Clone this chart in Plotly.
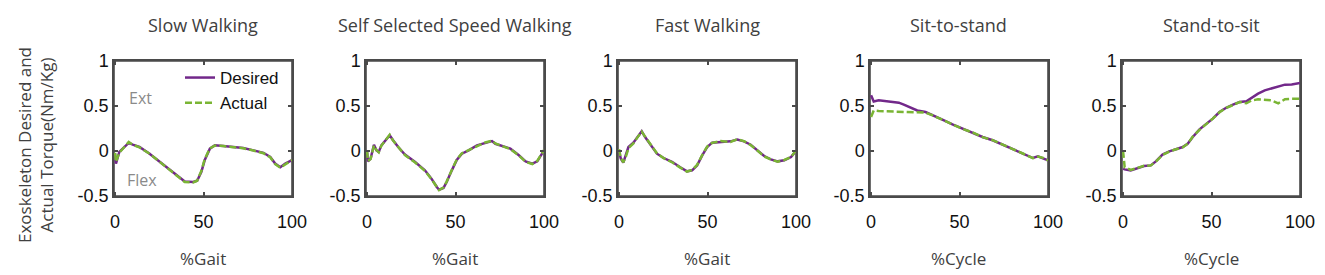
import plotly.graph_objects as go

# ---------------- data ----------------
titles = ["Slow Walking", "Self Selected Speed Walking", "Fast Walking", "Sit-to-stand", "Stand-to-sit"]
xlabels = ["%Gait", "%Gait", "%Gait", "%Cycle", "%Cycle"]
x_ticks = [0, 50, 100]
y_ticks = [-0.5, 0, 0.5, 1]

x1 = [0, 0.5, 2.4, 5.3, 7.7, 10, 13.8, 19.5, 25.2, 30.8, 36.5, 39.4, 44.1, 46.4, 48.8, 50.7, 53.6,
      56.4, 61.2, 66.8, 72.5, 78.2, 83.9, 87.7, 90.5, 93.4, 96.2, 100]
desired1 = [-0.03, -0.14, -0.01, 0.04, 0.09, 0.07, 0.045, -0.03, -0.12, -0.21, -0.30, -0.34, -0.345,
            -0.33, -0.23, -0.10, 0.026, 0.063, 0.056, 0.044, 0.033, 0.007, -0.02, -0.067, -0.14, -0.18,
            -0.14, -0.10]
actual1 = [-0.02, -0.12, -0.02, 0.05, 0.10, 0.07, 0.04, -0.03, -0.12, -0.21, -0.30, -0.345, -0.35,
           -0.33, -0.22, -0.09, 0.03, 0.06, 0.055, 0.045, 0.03, 0.005, -0.025, -0.07, -0.145, -0.185,
           -0.145, -0.10]

x2 = [0, 0.5, 2, 3.9, 5.3, 6.6, 8.1, 10.4, 12.8, 14.7, 17.6, 21.4, 27, 32.7, 36.5, 39.4, 40.7, 43.2,
      45, 47.9, 50.7, 53.6, 57.4, 62.1, 66.8, 70.6, 72.5, 76.3, 81, 85.8, 89.6, 93.4, 96.2, 100]
desired2 = [-0.01, -0.115, -0.085, 0.07, 0.007, -0.01, 0.063, 0.12, 0.175, 0.12, 0.044, -0.04, -0.12,
            -0.215, -0.31, -0.40, -0.43, -0.41, -0.345, -0.215, -0.10, -0.03, 0.007, 0.063, 0.093, 0.11,
            0.08, 0.056, 0.026, -0.048, -0.115, -0.14, -0.115, 0.007]
actual2 = [0.0, -0.11, -0.09, 0.06, 0.01, -0.015, 0.06, 0.125, 0.18, 0.115, 0.04, -0.045, -0.125,
           -0.22, -0.315, -0.405, -0.435, -0.405, -0.34, -0.21, -0.095, -0.025, 0.01, 0.06, 0.095, 0.115,
           0.085, 0.055, 0.02, -0.05, -0.12, -0.145, -0.11, 0.01]

x3 = [0, 1, 2.4, 3.9, 5.3, 8.1, 10.9, 12.8, 14.7, 17.6, 21.4, 25.2, 29.9, 34.6, 38.4, 41.3, 44.1, 47,
      49.8, 52.6, 57.4, 63, 66.8, 70.6, 74.4, 78.2, 82, 85.8, 89.6, 93.4, 97.2, 100]
desired3 = [-0.01, -0.085, -0.13, -0.05, 0.044, 0.093, 0.174, 0.22, 0.155, 0.07, -0.03, -0.078, -0.12,
            -0.18, -0.226, -0.215, -0.16, -0.048, 0.044, 0.093, 0.10, 0.107, 0.126, 0.107, 0.07, 0.007,
            -0.056, -0.093, -0.115, -0.104, -0.067, 0.0]
actual3 = [0.02, -0.08, -0.125, -0.06, 0.03, 0.085, 0.165, 0.215, 0.16, 0.075, -0.025, -0.08, -0.125,
           -0.185, -0.23, -0.21, -0.155, -0.045, 0.05, 0.09, 0.11, 0.10, 0.13, 0.11, 0.065, 0.005,
           -0.06, -0.095, -0.118, -0.1, -0.065, 0.005]

x4 = [0, 0.8, 1.5, 4.3, 8.1, 11.9, 15.7, 18.5, 22.3, 26.1, 30.8, 34.6, 40.3, 46, 51.7, 57.4, 63, 68.7,
      74.4, 80.1, 85.8, 91.5, 94.3, 97.2, 100]
desired4 = [0.62, 0.59, 0.55, 0.563, 0.556, 0.544, 0.537, 0.515, 0.478, 0.45, 0.433, 0.396, 0.348,
            0.296, 0.248, 0.204, 0.156, 0.119, 0.07, 0.019, -0.03, -0.078, -0.06, -0.078, -0.104]
actual4 = [0.378, 0.426, 0.45, 0.444, 0.442, 0.44, 0.437, 0.435, 0.433, 0.428, 0.426, 0.398, 0.346,
           0.298, 0.246, 0.206, 0.154, 0.121, 0.068, 0.021, -0.028, -0.08, -0.062, -0.076, -0.104]

x5 = [0, 0.9, 4.3, 8.1, 11.9, 15.7, 18.5, 22.3, 26.1, 29.9, 33.7, 36.5, 39.4, 43.2, 47, 50.7, 54.5,
      58.3, 62.1, 65.9, 69.7, 72.5, 76.3, 80.1, 83.9, 87.7, 91.5, 95.3, 100]
desired5 = [-0.196, -0.204, -0.215, -0.19, -0.167, -0.16, -0.115, -0.04, -0.004, 0.019, 0.044, 0.081,
            0.156, 0.24, 0.30, 0.36, 0.433, 0.48, 0.515, 0.544, 0.552, 0.59, 0.637, 0.674, 0.693, 0.711,
            0.737, 0.74, 0.756]
actual5 = [0.0, -0.18, -0.21, -0.19, -0.165, -0.16, -0.118, -0.045, -0.006, 0.02, 0.04, 0.08, 0.16,
           0.235, 0.295, 0.36, 0.43, 0.48, 0.51, 0.545, 0.53, 0.56, 0.574, 0.57, 0.563, 0.53, 0.575,
           0.58, 0.58]

xs = [x1, x2, x3, x4, x5]
desired = [desired1, desired2, desired3, desired4, desired5]
actual = [actual1, actual2, actual3, actual4, actual5]

# axis limits (MATLAB-style boxed axes)
X_RANGE = [-0.6, 100]
Y_RANGE = [-0.5, 1]

# ---------------- layout ----------------
# the page has an 8px body margin, so the figure is drawn 8px right/down of the window corner
OFF = 8
W, H = 1325 - OFF, 275 - OFF


def px_x(p):
    return (p - OFF) / W


def px_y(p):
    return 1 - (p - OFF) / H


lefts = [114, 366, 618, 870, 1122]
pw = 178
top_px, bot_px = 61, 196

PURPLE = "#72288A"
GREEN = "#7AB534"
FRAME = "#4a4a4a"
TXT = "#404040"
TICKFONT = dict(family="Liberation Sans, Arial", size=18, color="#111")

fig = go.Figure()
layout = dict(template="none", width=W, height=H, margin=dict(l=0, r=0, t=0, b=0, pad=0),
              paper_bgcolor="white", plot_bgcolor="white", showlegend=True)
annotations = []
for i in range(5):
    sfx = "" if i == 0 else str(i + 1)
    xa, ya = "x" + sfx, "y" + sfx
    # axes box, following the axis limits
    bx = [X_RANGE[0], X_RANGE[1], X_RANGE[1], X_RANGE[0], X_RANGE[0]]
    by = [Y_RANGE[0], Y_RANGE[0], Y_RANGE[1], Y_RANGE[1], Y_RANGE[0]]
    fig.add_trace(go.Scatter(x=bx, y=by, mode="lines", line=dict(color=FRAME, width=1.6),
                             xaxis=xa, yaxis=ya, showlegend=False, hoverinfo="skip",
                             cliponaxis=False))
    fig.add_trace(go.Scatter(x=xs[i], y=desired[i], mode="lines", name="Desired",
                             line=dict(color=PURPLE, width=2.5), xaxis=xa, yaxis=ya,
                             showlegend=(i == 0)))
    fig.add_trace(go.Scatter(x=xs[i], y=actual[i], mode="lines", name="Actual",
                             line=dict(color=GREEN, width=2.5, dash="7px,3px"), xaxis=xa, yaxis=ya,
                             showlegend=(i == 0)))
    dom_x = [px_x(lefts[i]), px_x(lefts[i] + pw)]
    dom_y = [px_y(bot_px), px_y(top_px)]
    frame = dict(showgrid=False, zeroline=False, showline=True, linecolor=FRAME, linewidth=1.5,
                 mirror="ticks", ticks="inside", ticklen=4, tickcolor=FRAME, tickwidth=1.5,
                 automargin=False, tickfont=TICKFONT, showticklabels=True, layer="above traces")
    layout["xaxis" + sfx] = dict(domain=dom_x, range=X_RANGE, tickvals=x_ticks,
                                 anchor=ya, ticklabelstandoff=9, **frame)
    layout["yaxis" + sfx] = dict(domain=dom_y, range=Y_RANGE,
                                 tickvals=y_ticks, ticktext=["-0.5", "0", "0.5", "1"],
                                 anchor=xa, **frame)
    cx = px_x(lefts[i] + pw / 2)
    annotations.append(dict(text=titles[i], x=cx, y=px_y(25), xref="paper", yref="paper",
                            showarrow=False, xanchor="center", yanchor="middle",
                            font=dict(family="Open Sans", size=18, color=TXT)))
    annotations.append(dict(text=xlabels[i], x=cx, y=px_y(258), xref="paper", yref="paper",
                            showarrow=False, xanchor="center", yanchor="middle",
                            font=dict(family="Open Sans", size=17, color=TXT)))

annotations.append(dict(text="Exoskeleton Desired and<br>Actual Torque(Nm/Kg)", textangle=-90,
                        x=px_x(35), y=px_y(145), xref="paper", yref="paper", showarrow=False,
                        xanchor="center", yanchor="middle",
                        font=dict(family="Open Sans", size=17, color=TXT)))
annotations.append(dict(text="Ext", x=px_x(140), y=px_y(98), xref="paper", yref="paper",
                        showarrow=False, xanchor="center", yanchor="middle",
                        font=dict(family="Open Sans", size=16, color="#8a8a8a")))
annotations.append(dict(text="Flex", x=px_x(142), y=px_y(180), xref="paper", yref="paper",
                        showarrow=False, xanchor="center", yanchor="middle",
                        font=dict(family="Open Sans", size=16, color="#8a8a8a")))
layout["annotations"] = annotations
layout["legend"] = dict(x=px_x(180), y=px_y(60), xanchor="left", yanchor="top",
                        bgcolor="rgba(0,0,0,0)", borderwidth=0,
                        font=dict(family="Liberation Sans, Arial", size=17, color="#111"),
                        tracegroupgap=0, itemwidth=30)
fig.update_layout(**layout)
fig.write_html("out.html")
